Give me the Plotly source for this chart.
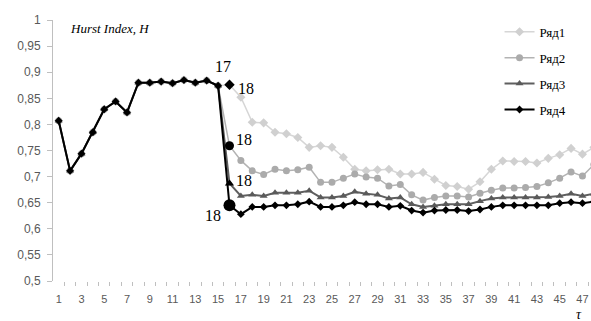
import plotly.graph_objects as go

# ---- data ----
tau = list(range(1, 49))
common = [0.807, 0.711, 0.744, 0.785, 0.829, 0.844, 0.823, 0.880, 0.880, 0.882,
          0.879, 0.885, 0.880, 0.884, 0.874]
tail1 = [0.876, 0.852, 0.804, 0.803, 0.785, 0.782, 0.775, 0.756, 0.759, 0.756,
         0.737, 0.714, 0.711, 0.713, 0.714, 0.705, 0.705, 0.708, 0.695, 0.683,
         0.681, 0.676, 0.690, 0.714, 0.730, 0.729, 0.729, 0.726, 0.735, 0.742,
         0.754, 0.743, 0.756]
tail2 = [0.759, 0.731, 0.711, 0.704, 0.714, 0.711, 0.713, 0.718, 0.689, 0.689,
         0.697, 0.705, 0.699, 0.697, 0.682, 0.685, 0.665, 0.655, 0.660, 0.663,
         0.663, 0.661, 0.668, 0.674, 0.678, 0.678, 0.679, 0.681, 0.688, 0.697,
         0.709, 0.701, 0.723]
tail3 = [0.687, 0.663, 0.665, 0.663, 0.669, 0.669, 0.669, 0.673, 0.660, 0.660,
         0.663, 0.671, 0.667, 0.665, 0.658, 0.660, 0.647, 0.642, 0.644, 0.647,
         0.647, 0.647, 0.653, 0.658, 0.660, 0.660, 0.660, 0.660, 0.661, 0.663,
         0.667, 0.663, 0.667]
tail4 = [0.645, 0.628, 0.642, 0.642, 0.645, 0.645, 0.647, 0.652, 0.642, 0.642,
         0.645, 0.651, 0.647, 0.647, 0.642, 0.644, 0.635, 0.631, 0.635, 0.636,
         0.636, 0.634, 0.637, 0.642, 0.645, 0.645, 0.645, 0.645, 0.645, 0.649,
         0.651, 0.649, 0.652]
ryad1 = common + tail1
ryad2 = common + tail2
ryad3 = common + tail3
ryad4 = common + tail4
series_names = ["Ряд1", "Ряд2", "Ряд3", "Ряд4"]
x_tick_labels = [str(v) for v in range(1, 48, 2)]
y_tick_vals = [0.5, 0.55, 0.6, 0.65, 0.7, 0.75, 0.8, 0.85, 0.9, 0.95, 1.0]
y_tick_labels = ["0,5", "0,55", "0,6", "0,65", "0,7", "0,75", "0,8", "0,85", "0,9", "0,95", "1"]
peak_tau = 15          # point labelled "17"
split_tau = 16         # highlighted points labelled "18"
peak_label = "17"
split_label = "18"

SERIF = "Liberation Serif, Times New Roman, serif"
SANS = "Liberation Sans, Arial, sans-serif"
X_RANGE = [0.5, 47.75]

# ---- styles ----
styles = [
    dict(color="#d6d6d6", mcolor="#d0d0d0", symbol="diamond", size=7, width=1.5),
    dict(color="#b3b3b3", mcolor="#ababab", symbol="circle", size=7, width=1.5),
    dict(color="#5f5f5f", mcolor="#5a5a5a", symbol="triangle-up", size=7, width=2),
    dict(color="#000000", mcolor="#000000", symbol="diamond", size=6, width=2),
]
hl_styles = [
    dict(symbol="diamond", size=8),
    dict(symbol="circle", size=9),
    dict(symbol="triangle-up", size=8),
    dict(symbol="circle", size=12),
]
label_shift = [(7, -4, "left"), (5, 6, "left"), (5, 3, "left"), (-6, -10, "right")]

all_series = [ryad1, ryad2, ryad3, ryad4]
fig = go.Figure()
for i, (name, ys) in enumerate(zip(series_names, all_series)):
    st = styles[i]
    fig.add_trace(go.Scatter(
        x=tau, y=ys, name=name, mode="lines+markers", legendgroup=name,
        line=dict(color=st["color"], width=st["width"]),
        marker=dict(symbol=st["symbol"], size=st["size"], color=st["mcolor"]),
        hoverinfo="skip",
    ))

k = tau.index(split_tau)
annotations = []
for i, ys in enumerate(all_series):
    hs = hl_styles[i]
    fig.add_trace(go.Scatter(
        x=[split_tau], y=[ys[k]], mode="markers", showlegend=False,
        marker=dict(symbol=hs["symbol"], size=hs["size"], color="#000000"),
        hoverinfo="skip",
    ))
    dx, dy, anchor = label_shift[i]
    annotations.append(dict(
        x=split_tau, y=ys[k], xref="x", yref="y", text=split_label, showarrow=False,
        xanchor=anchor, yanchor="middle", xshift=dx, yshift=dy,
        font=dict(family=SERIF, size=16, color="#000000")))

# invisible helper trace so the category-boundary tick axis is rendered
fig.add_trace(go.Scatter(x=[tau[0]], y=[None], xaxis="x2", mode="markers",
                         showlegend=False, hoverinfo="skip"))

kp = tau.index(peak_tau)
annotations.append(dict(
    x=peak_tau, y=ryad4[kp], xref="x", yref="y", text=peak_label, showarrow=False,
    xanchor="center", yanchor="middle", xshift=5, yshift=19,
    font=dict(family=SERIF, size=16, color="#000000")))
annotations.append(dict(
    x=0.028, y=0.969, xref="paper", yref="paper", text="<i>Hurst Index, H</i>",
    showarrow=False, xanchor="left", yanchor="middle",
    font=dict(family=SERIF, size=13, color="#000000")))
annotations.append(dict(
    x=0.978, y=-0.128, xref="paper", yref="paper", text="<i>τ</i>",
    showarrow=False, xanchor="center", yanchor="middle",
    font=dict(family=SERIF, size=14, color="#000000")))

fig.update_layout(
    width=591, height=321,
    margin=dict(l=53, r=0, t=20, b=40, autoexpand=False),
    paper_bgcolor="#ffffff", plot_bgcolor="#ffffff",
    showlegend=True,
    legend=dict(x=0.83, y=1.012, xanchor="left", yanchor="top",
                traceorder="grouped", tracegroupgap=6,
                font=dict(family=SERIF, size=13, color="#000000"),
                bgcolor="rgba(0,0,0,0)"),
    annotations=annotations,
    xaxis=dict(
        range=X_RANGE, showgrid=False, zeroline=False, showline=False,
        automargin=False,
        tickmode="array", tickvals=[int(t) for t in x_tick_labels], ticktext=x_tick_labels,
        ticks="", ticklabelstandoff=10,
        tickfont=dict(family=SANS, size=11, color="#595959"),
    ),
    xaxis2=dict(
        overlaying="x", anchor="y", side="bottom", range=X_RANGE,
        showgrid=False, zeroline=False, showline=False, automargin=False,
        tickmode="array", tickvals=[t + 0.5 for t in tau[:-1]],
        showticklabels=False, ticks="outside", ticklen=4,
        tickcolor="#bfbfbf", tickwidth=1,
    ),
    yaxis=dict(
        range=[0.5, 1.0], showgrid=False, zeroline=False, automargin=False,
        showline=True, linecolor="#bfbfbf", linewidth=1,
        tickmode="array", tickvals=y_tick_vals, ticktext=y_tick_labels,
        ticks="outside", ticklen=5, tickcolor="#bfbfbf", ticklabelstandoff=4,
        tickfont=dict(family=SANS, size=12, color="#595959"),
    ),
)
fig.write_html("out.html", config={"displayModeBar": False},
               post_script="document.body.style.margin='0';document.body.style.overflow='hidden';")
